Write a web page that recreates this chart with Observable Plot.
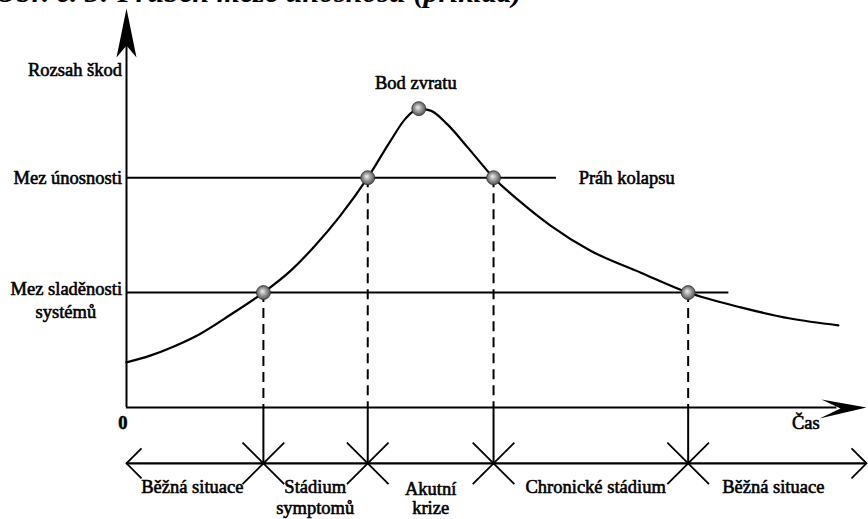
<!DOCTYPE html>
<html>
<head>
<meta charset="utf-8">
<script src="https://cdn.jsdelivr.net/npm/d3@7"></script>
<script src="https://cdn.jsdelivr.net/npm/@observablehq/plot@0.6"></script>
<style>
  html, body { margin: 0; padding: 0; background: #fff; overflow: hidden; }
  #wrap { position: relative; width: 868px; height: 519px; overflow: hidden; }
  #title { position: absolute; left: -5px; top: -23px; line-height: 30px; font-family: "Liberation Serif"; font-style: italic; font-weight: bold; font-size: 30px; white-space: nowrap; color: #000; }
</style>
</head>
<body>
<div id="wrap">
  <div id="chart"></div>
  <div id="title">Obr. č. 3: Průběh meze únosnosti (příklad)</div>
</div>
<script>
// Time axis (0–100) and damage axis (0–100)
const curveTime   = [0, 3.2, 6.4, 10.0, 14.1, 18.5, 22.2, 25.5, 28.9, 32.6, 35.7, 37.7, 39.5, 41.1, 43.4, 46.1, 49.6, 53.2, 57.3, 62.7, 69.5, 75.9, 83.0, 89.7, 96.2];
const curveDamage = [11.3, 13.0, 15.3, 18.5, 23.3, 28.8, 34.3, 40.6, 48.1, 57.6, 66.9, 72.4, 74.9, 74.4, 70.9, 65.2, 57.6, 51.6, 45.6, 39.3, 33.8, 28.8, 25.1, 22.3, 20.6];

const levelNames = ["Mez únosnosti", "Mez sladěnosti"];
const levelValues = [57.6, 28.8];
const levelEnds = [58.1, 81.4];

const eventTimes = [18.5, 32.6, 49.6, 75.9];
const eventLevels = [28.8, 57.6, 57.6, 28.8];
const peakTime = 39.5, peakDamage = 74.9;

const timelineLevel = -14;
const phaseNames1 = ["Běžná situace", "Stádium", "Akutní", "Chronické stádium", "Běžná situace"];
const phaseNames2 = ["", "symptomů", "krize", "", ""];
const phaseCenters = [8.9, 25.5, 41.1, 63.4, 87.4];

const curve = curveTime.map((t, i) => ({t, d: curveDamage[i]}));
const events = eventTimes.map((t, i) => ({t, d: eventLevels[i]}));
const spheres = [...events.slice(0, 2), {t: peakTime, d: peakDamage}, ...events.slice(2)];

// custom symbols (pixel shapes drawn at the data point)
const arrowUp = {draw(c) { c.moveTo(0, 0); c.lineTo(-10, 49); c.lineTo(0, 37); c.lineTo(10, 49); c.closePath(); }};
const arrowRight = {draw(c) { c.moveTo(0, 0); c.lineTo(-45, -8); c.lineTo(-26, 1); c.lineTo(-47, 11); c.closePath(); }};
const chevronLeft = {draw(c) { c.moveTo(15, -15); c.lineTo(0, 0); c.lineTo(15, 15); }};
const chevronRight = {draw(c) { c.moveTo(-15, -15); c.lineTo(0, 0); c.lineTo(-15, 15); }};

const font = "Liberation Serif";
const fs = 18.5;
const txt = {fontSize: fs, fontFamily: font, fill: "#000", stroke: "#000", strokeWidth: 0.6};

const plot = Plot.plot({
  width: 868,
  height: 519,
  margin: 0,
  x: {domain: [0, 100], range: [126, 866], axis: null},
  y: {domain: [0, 100], range: [407, 8], axis: null},
  style: {background: "#fff", fontFamily: font, color: "#000"},
  marks: [
    // axes
    Plot.ruleX([0], {y1: 0, y2: 92, stroke: "#000", strokeWidth: 2}),
    Plot.ruleY([0], {x1: 0, x2: 96, stroke: "#000", strokeWidth: 2}),
    Plot.dot([{t: 0, d: 100}], {x: "t", y: "d", r: 10, symbol: arrowUp, fill: "#000", stroke: "none"}),
    Plot.dot([{t: 100, d: 0}], {x: "t", y: "d", r: 10, symbol: arrowRight, fill: "#000", stroke: "none"}),
    // threshold lines
    Plot.ruleY(levelValues, {x1: 0, x2: (d, i) => levelEnds[i], stroke: "#000", strokeWidth: 2}),
    // dashed drop lines
    Plot.ruleX(events, {x: "t", y1: "d", y2: 0, stroke: "#000", strokeWidth: 2, strokeDasharray: "10,6"}),
    // solid connectors to the timeline
    Plot.ruleX(events, {x: "t", y1: 0, y2: timelineLevel, stroke: "#000", strokeWidth: 2}),
    // timeline
    Plot.ruleY([timelineLevel], {x1: 0, x2: 100, stroke: "#000", strokeWidth: 2.4}),
    Plot.dot(events, {x: "t", y: timelineLevel, r: 19, symbol: "times", stroke: "#000", strokeWidth: 1.8}),
    Plot.dot([{t: 0}], {x: "t", y: timelineLevel, r: 10, symbol: chevronLeft, stroke: "#000", fill: "none", strokeWidth: 1.8}),
    Plot.dot([{t: 100}], {x: "t", y: timelineLevel, r: 10, symbol: chevronRight, stroke: "#000", fill: "none", strokeWidth: 1.8}),
    // curve
    Plot.line(curve, {x: "t", y: "d", curve: "monotone-x", stroke: "#000", strokeWidth: 2.2}),
    // spheres
    Plot.dot(spheres, {x: "t", y: "d", r: 7, fill: "url(#sphere)", stroke: "#333", strokeWidth: 0.8}),
    // labels
    Plot.text(["Rozsah škod", ...levelNames], {
      x: -0.6, y: (d, i) => [84.5, 57.6, 29.8][i], text: d => d, textAnchor: "end", ...txt
    }),
    Plot.text(["systémů"], {x: -8.2, y: 23.8, text: d => d, ...txt}),
    Plot.text(["0"], {x: -0.5, y: -3.8, text: d => d, ...txt, fontWeight: "bold"}),
    Plot.text(["Čas"], {x: 91.8, y: -3.8, text: d => d, ...txt}),
    Plot.text(["Bod zvratu"], {x: 39.1, y: 81.2, text: d => d, ...txt}),
    Plot.text(["Práh kolapsu"], {x: 61.1, y: 57.6, text: d => d, textAnchor: "start", ...txt}),
    Plot.text(phaseNames1, {x: (d, i) => phaseCenters[i], y: (d, i) => i === 2 ? -20.4 : -20.0, text: d => d, ...txt}),
    Plot.text(phaseNames2, {x: (d, i) => phaseCenters[i], y: (d, i) => i === 2 ? -25.3 : -25.1, text: d => d, ...txt})
  ]
});

const defs = d3.select(plot).insert("defs", ":first-child");
const g = defs.append("radialGradient").attr("id", "sphere").attr("cx", "0.5").attr("cy", "0.5").attr("r", "0.6").attr("fx", "0.42").attr("fy", "0.4");
g.append("stop").attr("offset", "0").attr("stop-color", "#f2f2f2");
g.append("stop").attr("offset", "0.45").attr("stop-color", "#9a9a9a");
g.append("stop").attr("offset", "1").attr("stop-color", "#3a3a3a");

document.getElementById("chart").appendChild(plot);
</script>
</body>
</html>
